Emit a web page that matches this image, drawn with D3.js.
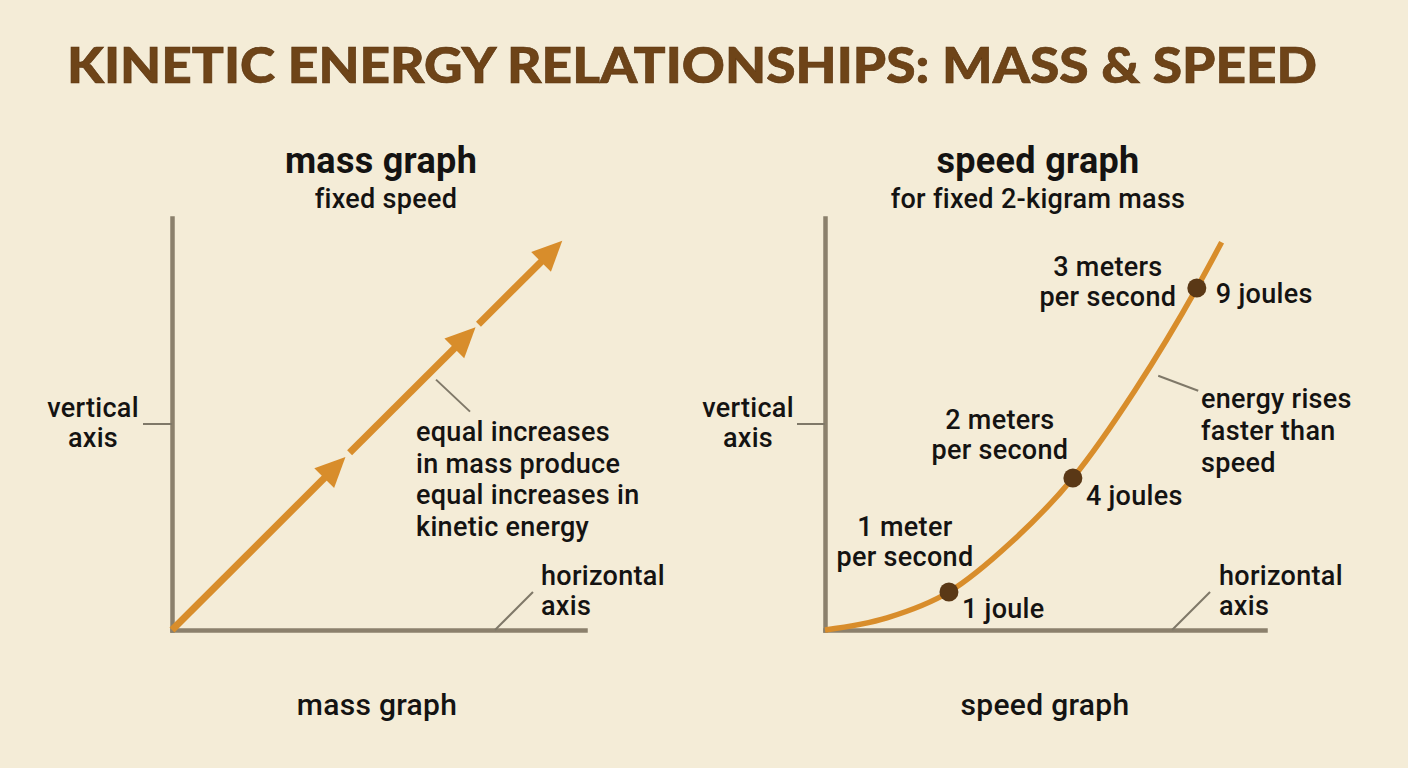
<!DOCTYPE html>
<html>
<head>
<meta charset="utf-8">
<script src="https://cdn.jsdelivr.net/npm/d3@7"></script>
<style>
  html, body { margin: 0; padding: 0; background: #f4ecd7; }
  svg { display: block; }
  .lbl { font-family: Roboto, "Noto Sans", sans-serif; fill: #141312; letter-spacing: 0.3px; }
</style>
</head>
<body>
<svg id="chart" width="1408" height="768"></svg>
<script>
(function () {
  "use strict";

  // mass graph: three arrow pieces, energy grows 1:1 with mass (arbitrary units, speed fixed)
  const massStart = [0, 4.3, 7.42];
  const massEnd = [4.2, 7.35, 9.45];
  const massEnergyStart = [0, 4.3, 7.42];
  const massEnergyEnd = [4.2, 7.35, 9.45];

  // speed graph: curve (m/s, joules), 2 kg mass
  const speedValues = [0, 0.5, 1, 1.5, 2, 2.5, 3, 3.2];
  const speedEnergy = [0, 0.32, 1, 2.3, 4, 6.3, 9, 10.2];

  // marked points on the speed curve
  const markSpeeds = [1, 2, 3];
  const markEnergy = [1, 4, 9];
  const speedLabels = [["1 meter", "per second"], ["2 meters", "per second"], ["3 meters", "per second"]];
  const energyLabels = ["1 joule", "4 joules", "9 joules"];

  const TITLE = "KINETIC ENERGY RELATIONSHIPS: MASS & SPEED";
  const massNote = ["equal increases", "in mass produce", "equal increases in", "kinetic energy"];
  const speedNote = ["energy rises", "faster than", "speed"];

  const ORANGE = "#d88d2b";
  const AXIS = "#8b806c";
  const LEADER = "#7f7868";
  const DOT = "#5a3816";

  const svg = d3.select("#chart");

  svg.append("text")
    .attr("x", 692).attr("y", 83)
    .attr("text-anchor", "middle")
    .attr("textLength", 1250).attr("lengthAdjust", "spacingAndGlyphs")
    .style("font-family", "Lato, 'Open Sans', sans-serif")
    .style("font-weight", 900)
    .style("font-size", "50px")
    .style("fill", "#6e4418")
    .style("stroke", "#5a3410")
    .style("stroke-width", 0.6)
    .text(TITLE);

  function lines(sel, x, y, rows, gap, anchor, size, weight) {
    const t = sel.append("text")
      .attr("class", "lbl")
      .attr("x", x).attr("y", y)
      .attr("text-anchor", anchor || "start")
      .style("font-size", (size || 27) + "px")
      .style("font-weight", weight || 500);
    rows.forEach((r, i) => {
      t.append("tspan").attr("x", x).attr("dy", i === 0 ? 0 : gap).text(r);
    });
    return t;
  }

  function leader(x1, y1, x2, y2) {
    svg.append("line")
      .attr("x1", x1).attr("y1", y1).attr("x2", x2).attr("y2", y2)
      .attr("stroke", LEADER).attr("stroke-width", 2);
  }

  function drawAxes(x, y) {
    const g = svg.append("g");
    g.append("g")
      .attr("transform", `translate(0,${y.range()[0]})`)
      .call(d3.axisBottom(x).ticks(0).tickSizeOuter(0));
    g.append("g")
      .attr("transform", `translate(${x.range()[0]},0)`)
      .call(d3.axisLeft(y).ticks(0).tickSizeOuter(0));
    g.selectAll(".domain")
      .attr("stroke", AXIS).attr("stroke-width", 4.5).attr("stroke-linecap", "square");
    return g;
  }

  function arrow(x1, y1, x2, y2) {
    const len = Math.hypot(x2 - x1, y2 - y1);
    const ux = (x2 - x1) / len, uy = (y2 - y1) / len;
    const L = 30, W = 14;
    const bx = x2 - ux * L, by = y2 - uy * L;
    svg.append("line")
      .attr("x1", x1).attr("y1", y1).attr("x2", bx + ux * 2).attr("y2", by + uy * 2)
      .attr("stroke", ORANGE).attr("stroke-width", 7);
    svg.append("polygon")
      .attr("points", [[x2, y2], [bx - uy * W, by + ux * W], [bx + uy * W, by - ux * W]].join(" "))
      .attr("fill", ORANGE);
  }

  // ---------- mass graph ----------
  const xm = d3.scaleLinear().domain([0, 10]).range([172, 585]);
  const ym = d3.scaleLinear().domain([0, 10]).range([630, 218]);
  drawAxes(xm, ym);

  massStart.forEach((m, i) => {
    arrow(xm(m), ym(massEnergyStart[i]), xm(massEnd[i]), ym(massEnergyEnd[i]));
  });

  lines(svg, 381, 173, ["mass graph"], 0, "middle", 36, 700);
  lines(svg, 386, 208, ["fixed speed"], 0, "middle", 27);
  lines(svg, 377, 715, ["mass graph"], 0, "middle", 30);

  const vMid = ym(5);
  leader(143, vMid, xm(0), vMid);
  lines(svg, 93, 417, ["vertical", "axis"], 30, "middle", 27);

  leader(xm(6.32) + 3, ym(6.32) + 10, xm(6.32) + 37, ym(6.32) + 42);
  lines(svg, 416, 441, massNote, 31.5, "start", 27);

  leader(xm(7.82), ym(0), xm(7.82) + 38, ym(0) - 38);
  lines(svg, 541, 585, ["horizontal", "axis"], 30, "start", 27);

  // ---------- speed graph ----------
  const xs = d3.scaleLinear().domain([0, 3.55]).range([825, 1265]);
  const ys = d3.scaleLinear().domain([0, 10.84]).range([630, 218]);
  drawAxes(xs, ys);

  const curve = d3.line()
    .x((d) => xs(d[0]))
    .y((d) => ys(d[1]))
    .curve(d3.curveMonotoneX);
  svg.append("path")
    .datum(speedValues.map((v, i) => [v, speedEnergy[i]]))
    .attr("d", curve)
    .attr("fill", "none")
    .attr("stroke", ORANGE)
    .attr("stroke-width", 5.5)
    .attr("stroke-linecap", "butt");

  // label offsets from each dot: [speed label dx, dy], [energy label dx, dy]
  const speedOff = [[-44, -56], [-73, -49], [-89, -12]];
  const energyOff = [[13, 26], [13, 27], [19, 15]];

  markSpeeds.forEach((s, i) => {
    const cx = xs(s), cy = ys(markEnergy[i]);
    svg.append("circle")
      .attr("cx", cx).attr("cy", cy).attr("r", 9.5)
      .attr("fill", DOT);
    lines(svg, cx + speedOff[i][0], cy + speedOff[i][1], speedLabels[i], 30, "middle", 27);
    lines(svg, cx + energyOff[i][0], cy + energyOff[i][1], [energyLabels[i]], 0, "start", 27);
  });

  lines(svg, 1038, 173, ["speed graph"], 0, "middle", 36, 700);
  lines(svg, 1038, 208, ["for fixed 2-kigram mass"], 0, "middle", 27);
  lines(svg, 1045, 715, ["speed graph"], 0, "middle", 30);

  const vMid2 = ys(ys.domain()[1] / 2);
  leader(797, vMid2, xs(0), vMid2);
  lines(svg, 748, 417, ["vertical", "axis"], 30, "middle", 27);

  leader(xs(2.64) + 6, ys(6.9) + 8, xs(2.64) + 46, ys(6.9) + 23);
  lines(svg, 1201, 408, speedNote, 32, "start", 27);

  leader(xs(2.8), ys(0), xs(2.8) + 38, ys(0) - 38);
  lines(svg, 1219, 585, ["horizontal", "axis"], 30, "start", 27);
})();
</script>
</body>
</html>
